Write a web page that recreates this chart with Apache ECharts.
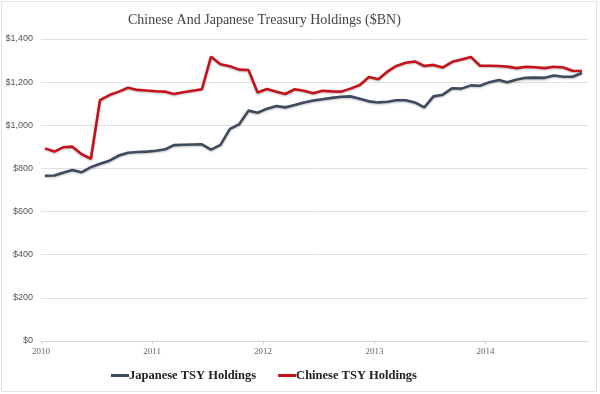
<!DOCTYPE html>
<html>
<head>
<meta charset="utf-8">
<script src="https://cdn.jsdelivr.net/npm/echarts@6/dist/echarts.min.js"></script>
<style>
html,body{margin:0;padding:0;background:#fff;}
#c{width:600px;height:394px;}
</style>
</head>
<body>
<div id="c"></div>
<script>
// Months Jan 2010 .. Nov 2014
var startYear = 2010, startMonth = 0, monthCount = 59;
var months = [];
for (var i = 0; i < monthCount; i++) {
  var y = startYear + Math.floor((startMonth + i) / 12);
  var m = (startMonth + i) % 12 + 1;
  months.push(y + '-' + (m < 10 ? '0' + m : m));
}
var yTicks = [0, 200, 400, 600, 800, 1000, 1200, 1400];
var xYearLabels = ['2010', '2011', '2012', '2013', '2014'];

var japan = [766, 767, 780, 793, 782, 806, 822, 836, 860, 873, 876, 878,
  882, 889, 908, 910, 911, 912, 887, 909, 983, 1004, 1068, 1058,
  1077, 1089, 1083, 1094, 1106, 1115, 1121, 1127, 1132, 1134, 1123, 1111,
  1106, 1109, 1116, 1116, 1106, 1083, 1134, 1142, 1172, 1170, 1185, 1183,
  1200, 1210, 1200, 1212, 1220, 1221, 1220, 1231, 1225, 1225, 1242];
var china = [893, 878, 898, 901, 867, 845, 1117, 1140, 1156, 1174, 1164, 1161,
  1158, 1156, 1145, 1153, 1160, 1167, 1318, 1283, 1274, 1258, 1256, 1152,
  1168, 1156, 1145, 1167, 1160, 1148, 1160, 1157, 1156, 1170, 1187, 1224,
  1213, 1250, 1275, 1290, 1296, 1275, 1280, 1268, 1294, 1305, 1317, 1276,
  1276, 1275, 1272, 1265, 1271, 1269, 1265, 1271, 1268, 1253, 1252];

function toTime(s) {
  var p = s.split('-');
  return new Date(+p[0], +p[1] - 1, 14).getTime();
}
function pairs(vals) {
  return vals.map(function (v, i) { return [toTime(months[i]), v]; });
}

var chart = echarts.init(document.getElementById('c'));
var DAY = 86400000;
chart.setOption({
  backgroundColor: '#fff',
  animation: false,
  title: {
    text: 'Chinese And Japanese Treasury Holdings ($BN)',
    left: 123,
    top: 8,
    textStyle: {
      fontFamily: 'Liberation Serif, DejaVu Serif, serif',
      fontSize: 14,
      fontWeight: 'normal',
      color: '#444'
    }
  },
  graphic: [{
    type: 'rect',
    shape: { x: 1.5, y: 1.5, width: 595, height: 390 },
    style: { fill: 'none', stroke: '#e2e2e2', lineWidth: 1 },
    silent: true
  }],
  legend: {
    bottom: 7,
    left: 106,
    itemGap: 22,
    itemWidth: 18,
    itemHeight: 3,
    icon: 'rect',
    textStyle: {
      fontFamily: 'Liberation Serif, DejaVu Serif, serif',
      fontSize: 12.5,
      fontWeight: 'bold',
      color: '#222',
      padding: [0, 0, 0, -5]
    },
    data: ['Japanese TSY Holdings', 'Chinese TSY Holdings']
  },
  grid: { left: 41, right: 12, top: 39, bottom: 53 },
  xAxis: {
    type: 'time',
    min: new Date(2010, 0, 1).getTime(),
    max: new Date(2014, 11, 4).getTime(),
    minInterval: 365 * DAY,
    maxInterval: 366 * DAY,
    axisLine: { lineStyle: { color: '#d8d8d8', width: 1 } },
    axisTick: { show: true, length: 3, lineStyle: { color: '#cfcfcf' } },
    splitLine: { show: false },
    axisLabel: {
      fontFamily: 'Liberation Serif, DejaVu Serif, serif',
      fontSize: 9,
      color: '#666',
      margin: 6,
      formatter: function (v) {
        var d = new Date(v);
        var yr = String(d.getFullYear());
        return (d.getMonth() === 0 && xYearLabels.indexOf(yr) >= 0) ? yr : '';
      }
    }
  },
  yAxis: {
    type: 'value',
    min: yTicks[0],
    max: yTicks[yTicks.length - 1],
    interval: 200,
    axisLine: { show: false },
    axisTick: { show: false },
    splitLine: { lineStyle: { color: '#e0e0e0', width: 1 } },
    axisLabel: {
      fontFamily: 'Liberation Sans, Arial, sans-serif',
      fontSize: 9,
      color: '#555',
      margin: 8,
      formatter: function (v) {
        return '$' + String(v).replace(/\B(?=(\d{3})+(?!\d))/g, ',');
      }
    }
  },
  series: [{
    name: 'Japanese TSY Holdings',
    type: 'line',
    data: pairs(japan),
    showSymbol: false,
    smooth: false,
    color: '#3e4a5e',
    lineStyle: { width: 2.6, color: '#3e4a5e', shadowColor: 'rgba(0,0,0,0.25)', shadowBlur: 2, shadowOffsetY: 1 }
  }, {
    name: 'Chinese TSY Holdings',
    type: 'line',
    data: pairs(china),
    showSymbol: false,
    smooth: false,
    color: '#c4121a',
    lineStyle: { width: 2.6, color: '#c4121a', shadowColor: 'rgba(0,0,0,0.25)', shadowBlur: 2, shadowOffsetY: 1 }
  }]
});
</script>
</body>
</html>
